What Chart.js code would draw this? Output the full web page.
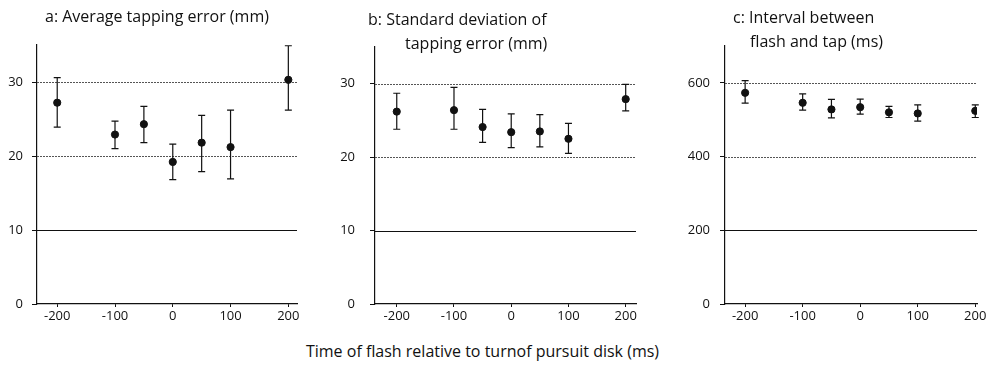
<!DOCTYPE html>
<html lang="en">
<head>
    <meta charset="UTF-8">
    <title>Tapping error</title>
    <script src="https://cdn.jsdelivr.net/npm/chart.js"></script>
    <style>
        body { margin: 0; width: 992px; height: 366px; background: #fff; position: relative; overflow: hidden; font-family: "Open Sans", sans-serif; color: #111; }
        .panel { position: absolute; top: 0; height: 330px; }
        .title { position: absolute; font-size: 16px; white-space: nowrap; line-height: 1; }
        .xlabel { position: absolute; top: 343px; left: 0; width: 965px; text-align: center; font-size: 16px; line-height: 1; }
    </style>
</head>
<body>
    <div class="panel" style="left:0;width:310px"><canvas id="chartA"></canvas></div>
    <div class="panel" style="left:330px;width:330px"><canvas id="chartB"></canvas></div>
    <div class="panel" style="left:660px;width:332px"><canvas id="chartC"></canvas></div>

    <div class="title" style="left:45px;top:8px">a: Average tapping error (mm)</div>
    <div class="title" style="left:368px;top:11px">b: Standard deviation of</div>
    <div class="title" style="left:405px;top:35px">tapping error (mm)</div>
    <div class="title" style="left:733px;top:9px">c: Interval between</div>
    <div class="title" style="left:750px;top:33px">flash and tap (ms)</div>
    <div class="xlabel">Time of flash relative to turnof pursuit disk (ms)</div>

    <script>
        // x positions (ms) shared by all three panels
        const flashTimes = [-200, -100, -50, 0, 50, 100, 200];
        const xTicks = [-200, -100, 0, 100, 200];

        // a: average tapping error (mm)
        const errMean = [27.2, 22.9, 24.3, 19.2, 21.8, 21.2, 30.3];
        const errHigh = [30.6, 24.7, 26.7, 21.6, 25.5, 26.2, 34.9];
        const errLow  = [23.9, 21.0, 21.8, 16.8, 17.9, 16.9, 26.2];
        const mmTicks = [0, 10, 20, 30];

        // b: standard deviation of tapping error (mm)
        const sdMean = [26.2, 26.4, 24.1, 23.4, 23.5, 22.5, 27.9];
        const sdHigh = [28.7, 29.5, 26.5, 25.9, 25.8, 24.6, 29.9];
        const sdLow  = [23.8, 23.8, 22.0, 21.3, 21.4, 20.5, 26.3];

        // c: interval between flash and tap (ms)
        const ivMean = [573, 546, 528, 534, 520, 517, 524];
        const ivHigh = [606, 570, 555, 556, 536, 540, 540];
        const ivLow  = [545, 526, 505, 515, 506, 496, 506];
        const msTicks = [0, 200, 400, 600];

        const ink = '#111';

        // horizontal reference lines: dotted except the lowest one
        const refLines = {
            id: 'refLines',
            beforeDatasetsDraw(chart) {
                const { ctx, chartArea, scales } = chart;
                const vals = scales.y.ticks.map(t => t.value).filter(v => v > 0);
                const lowest = Math.min(...vals);
                ctx.save();
                vals.forEach(v => {
                    const y = Math.round(scales.y.getPixelForValue(v)) + 0.5;
                    ctx.beginPath();
                    if (v === lowest) {
                        ctx.setLineDash([]);
                        ctx.strokeStyle = ink;
                        ctx.lineWidth = 1.2;
                    } else {
                        ctx.setLineDash([2, 1]);
                        ctx.strokeStyle = '#555';
                        ctx.lineWidth = 1;
                    }
                    ctx.moveTo(chartArea.left, y);
                    ctx.lineTo(chartArea.right, y);
                    ctx.stroke();
                });
                ctx.restore();
            }
        };

        // vertical error bars with small caps
        const errorBars = {
            id: 'errorBars',
            beforeDatasetsDraw(chart) {
                const { ctx, scales } = chart;
                const ds = chart.data.datasets[0];
                ctx.save();
                ctx.strokeStyle = ink;
                ctx.lineWidth = 1.2;
                ds.data.forEach((p, i) => {
                    const x = scales.x.getPixelForValue(p.x);
                    const yHi = scales.y.getPixelForValue(ds.high[i]);
                    const yLo = scales.y.getPixelForValue(ds.low[i]);
                    ctx.beginPath();
                    ctx.moveTo(x, yHi);
                    ctx.lineTo(x, yLo);
                    ctx.moveTo(x - 3.5, yHi);
                    ctx.lineTo(x + 3.5, yHi);
                    ctx.moveTo(x - 3.5, yLo);
                    ctx.lineTo(x + 3.5, yLo);
                    ctx.stroke();
                });
                ctx.restore();
            }
        };

        function makePanel(id, mean, high, low, yTicks, yMax, xMin, xMax, yWidth, labelPad, padTop, padRight) {
            const ctx = document.getElementById(id).getContext('2d');
            return new Chart(ctx, {
                type: 'scatter',
                data: {
                    datasets: [{
                        data: flashTimes.map((t, i) => ({ x: t, y: mean[i] })),
                        high: high,
                        low: low,
                        backgroundColor: ink,
                        borderColor: ink,
                        pointRadius: 3.6,
                        pointHoverRadius: 3.6
                    }]
                },
                options: {
                    responsive: true,
                    maintainAspectRatio: false,
                    animation: false,
                    layout: { padding: { top: padTop, right: padRight, left: 0, bottom: 0 } },
                    plugins: { legend: { display: false }, tooltip: { enabled: false } },
                    scales: {
                        x: {
                            type: 'linear',
                            min: xMin,
                            max: xMax,
                            afterBuildTicks: s => { s.ticks = xTicks.map(v => ({ value: v })); },
                            afterFit: s => { s.height = 26; },
                            border: { color: ink, width: 1.2 },
                            grid: { drawOnChartArea: false, tickLength: 3, tickColor: ink },
                            ticks: { color: ink, padding: 1, maxRotation: 0, font: { family: 'Open Sans', size: 13 } }
                        },
                        y: {
                            min: 0,
                            max: yMax,
                            afterBuildTicks: s => { s.ticks = yTicks.map(v => ({ value: v })); },
                            afterFit: s => { s.width = yWidth; },
                            border: { color: ink, width: 1.2 },
                            grid: { drawOnChartArea: false, tickLength: 5, tickColor: ink },
                            ticks: { color: ink, padding: labelPad, font: { family: 'Open Sans', size: 13 } }
                        }
                    }
                },
                plugins: [refLines, errorBars]
            });
        }

        makePanel('chartA', errMean, errHigh, errLow, mmTicks, 35, -235, 215, 37, 9, 45, 13);
        makePanel('chartB', sdMean, sdHigh, sdLow, mmTicks, 35, -238, 218, 45, 15, 47, 24);
        makePanel('chartC', ivMean, ivHigh, ivLow, msTicks, 700, -235, 203, 65, 10, 46, 15);
    </script>
</body>
</html>
